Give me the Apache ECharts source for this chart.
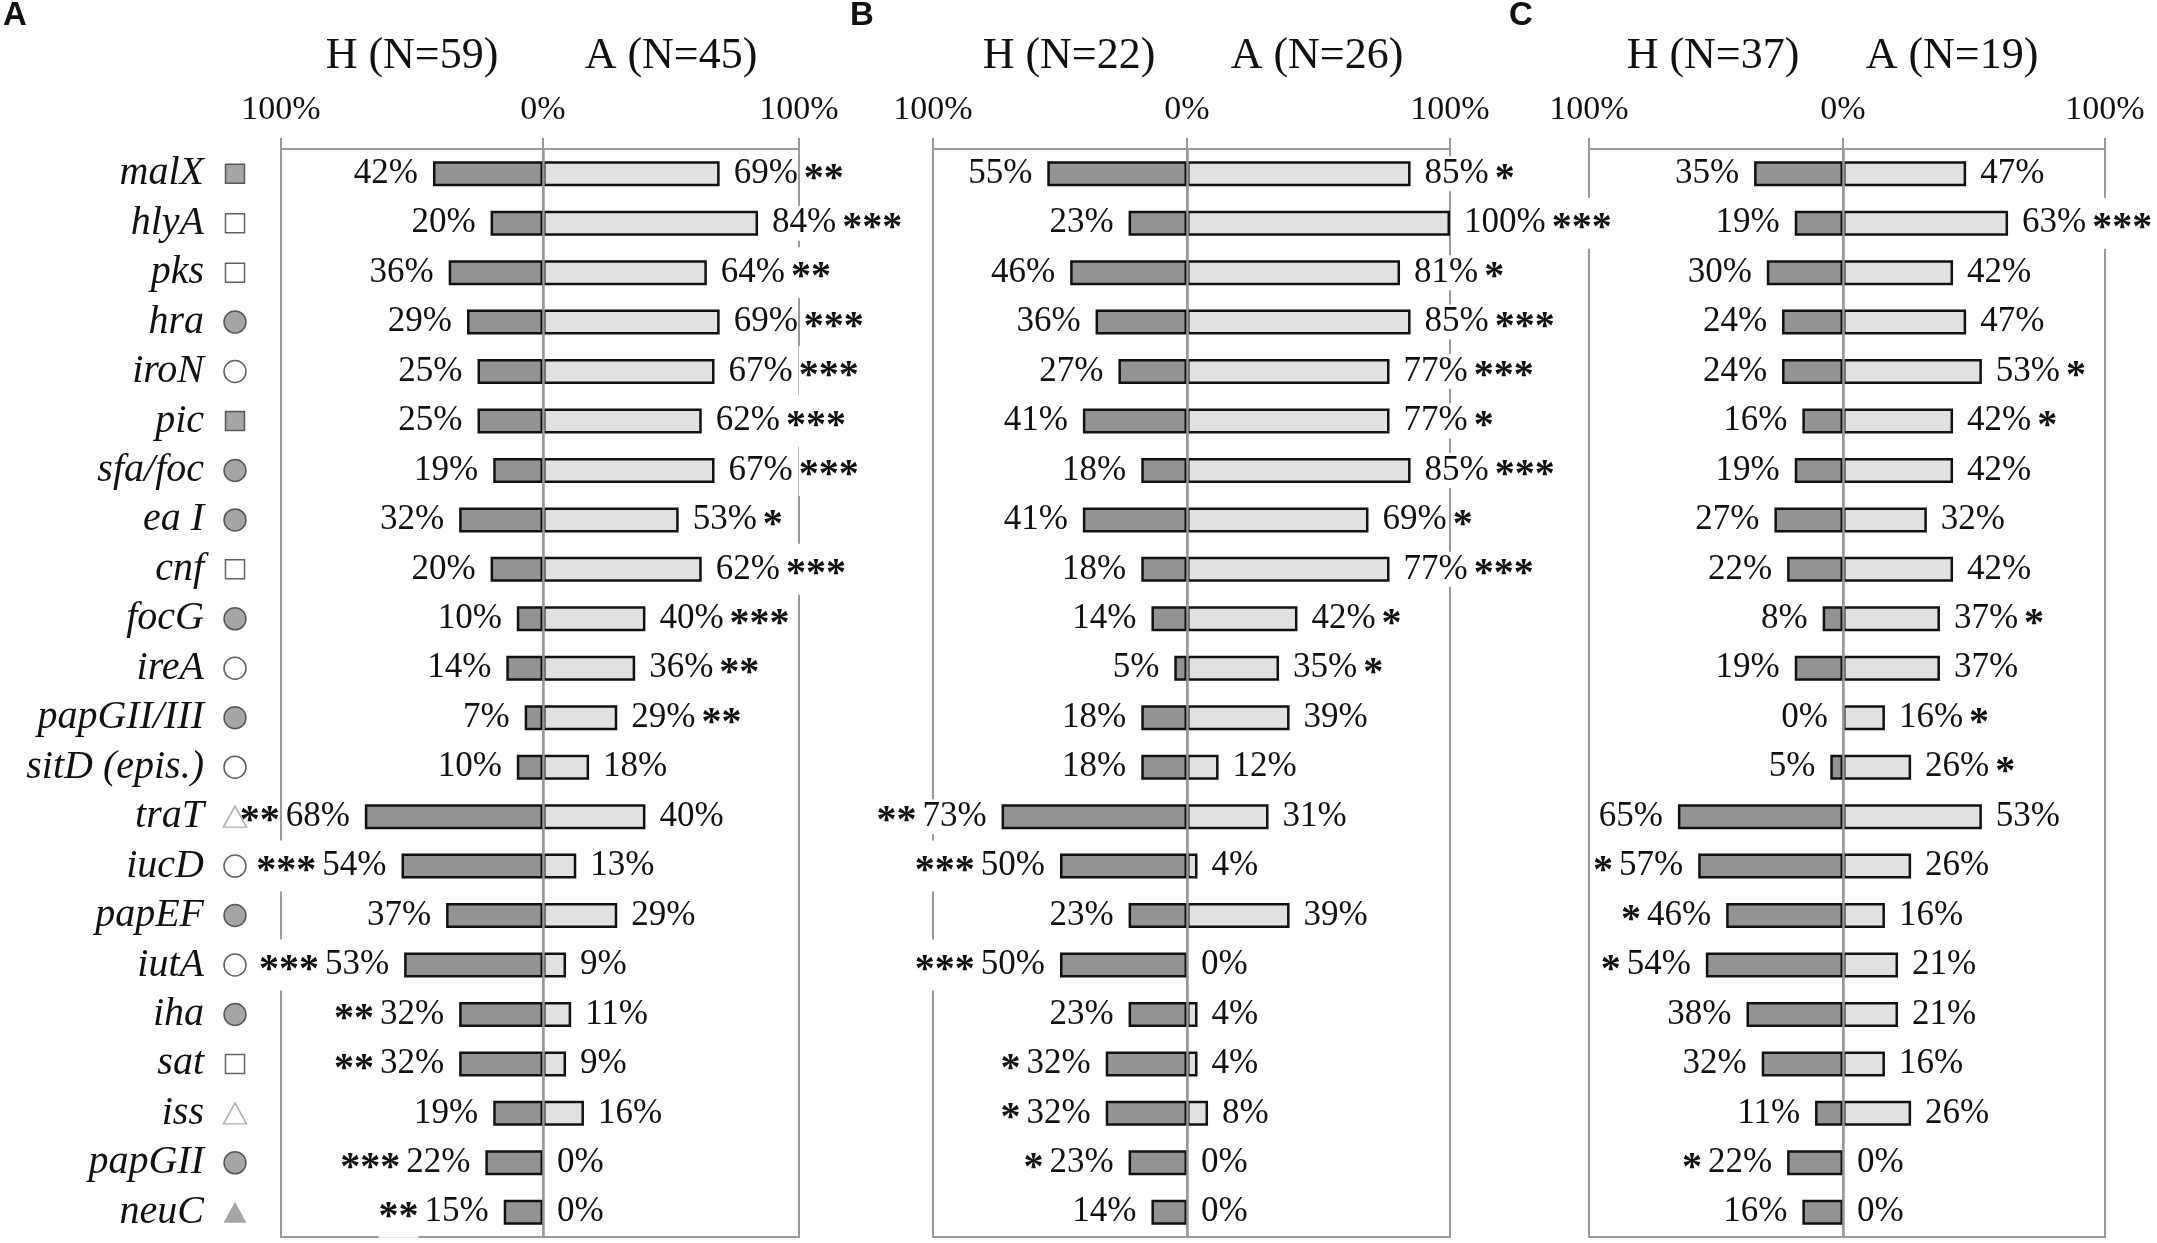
<!DOCTYPE html>
<html>
<head>
<meta charset="utf-8">
<script src="https://cdn.jsdelivr.net/npm/echarts@6/dist/echarts.min.js"></script>
<style>
  html, body { margin: 0; padding: 0; background: #fff; }
  #chart { width: 2157px; height: 1243px; }
</style>
</head>
<body>
<div id="chart"></div>
<script>
// genes, top to bottom
var genes = ['malX', 'hlyA', 'pks', 'hra', 'iroN', 'pic', 'sfa/foc', 'ea I', 'cnf', 'focG', 'ireA',
  'papGII/III', 'sitD (epis.)', 'traT', 'iucD', 'papEF', 'iutA', 'iha', 'sat', 'iss', 'papGII', 'neuC'];
// marker next to each gene name
var geneShape = ['rect', 'rect', 'rect', 'circle', 'circle', 'rect', 'circle', 'circle', 'rect', 'circle', 'circle',
  'circle', 'circle', 'triangle', 'circle', 'circle', 'circle', 'circle', 'rect', 'triangle', 'circle', 'triangle'];
var geneFill = ['g', 'w', 'w', 'g', 'w', 'g', 'g', 'g', 'w', 'g', 'w',
  'g', 'w', 'w', 'w', 'g', 'w', 'g', 'w', 'w', 'g', 'g'];

// panel A
var hA = [42, 20, 36, 29, 25, 25, 19, 32, 20, 10, 14, 7, 10, 68, 54, 37, 53, 32, 32, 19, 22, 15];
var hStarsA = ['', '', '', '', '', '', '', '', '', '', '', '', '', '**', '***', '', '***', '**', '**', '', '***', '**'];
var aA = [69, 84, 64, 69, 67, 62, 67, 53, 62, 40, 36, 29, 18, 40, 13, 29, 9, 11, 9, 16, 0, 0];
var aStarsA = ['**', '***', '**', '***', '***', '***', '***', '*', '***', '***', '**', '**', '', '', '', '', '', '', '', '', '', ''];
// panel B
var hB = [55, 23, 46, 36, 27, 41, 18, 41, 18, 14, 5, 18, 18, 73, 50, 23, 50, 23, 32, 32, 23, 14];
var hStarsB = ['', '', '', '', '', '', '', '', '', '', '', '', '', '**', '***', '', '***', '', '*', '*', '*', ''];
var aB = [85, 100, 81, 85, 77, 77, 85, 69, 77, 42, 35, 39, 12, 31, 4, 39, 0, 4, 4, 8, 0, 0];
var aStarsB = ['*', '***', '*', '***', '***', '*', '***', '*', '***', '*', '*', '', '', '', '', '', '', '', '', '', '', ''];
// panel C
var hC = [35, 19, 30, 24, 24, 16, 19, 27, 22, 8, 19, 0, 5, 65, 57, 46, 54, 38, 32, 11, 22, 16];
var hStarsC = ['', '', '', '', '', '', '', '', '', '', '', '', '', '', '*', '*', '*', '', '', '', '*', ''];
var aC = [47, 63, 42, 47, 53, 42, 42, 32, 42, 37, 37, 16, 26, 53, 26, 16, 21, 21, 16, 26, 0, 0];
var aStarsC = ['', '***', '', '', '*', '*', '', '', '', '*', '', '*', '*', '', '', '', '', '', '', '', '', ''];

var panelLetters = ['A', 'B', 'C'];
var groupTitles = [['H (N=59)', 'A (N=45)'], ['H (N=22)', 'A (N=26)'], ['H (N=37)', 'A (N=19)']];
var tickValues = [0, 100];

var panelData = [
  { h: hA, hs: hStarsA, a: aA, as: aStarsA },
  { h: hB, hs: hStarsB, a: aB, as: aStarsB },
  { h: hC, hs: hStarsC, a: aC, as: aStarsC }
];

// layout (pixels): 100% left, 0%, 100% right of each panel
var boxes = [
  { left: 281, mid: 543, right: 799, letterX: 3, titleX: [412, 671] },
  { left: 933, mid: 1187, right: 1450, letterX: 850, titleX: [1069, 1317] },
  { left: 1589, mid: 1843, right: 2105, letterX: 1509, titleX: [1713, 1952] }
];
var plotTop = 149, plotHeight = 1088;

var serif = "'Liberation Serif', 'Times New Roman', serif";
var ink = '#111';
var frame = '#9a9a9a';

var grids = [], xAxes = [], yAxes = [], series = [], graphics = [];

function barItems(vals) {
  return vals.map(function (v) {
    return v === 0 ? { value: v, itemStyle: { borderWidth: 0 } } : { value: v };
  });
}

function topAxis(gi, inverse, hideZero) {
  return {
    type: 'value', gridIndex: gi, min: 0, max: 100, interval: 100, inverse: inverse,
    position: 'top',
    axisLine: { show: true, onZero: false, lineStyle: { color: frame, width: 2 } },
    axisTick: { show: true, length: 11, inside: false, customValues: tickValues, lineStyle: { color: frame, width: 2 } },
    axisLabel: {
      show: true, margin: 22, fontFamily: serif, fontSize: 34, color: ink,
      customValues: hideZero ? [100] : tickValues,
      formatter: function (v) { return v + '%'; }
    },
    splitLine: { show: false }
  };
}

// stars are drawn a bit larger, bold, and pushed down to sit mid-height
var starRich = {
  v: { fontFamily: serif, fontSize: 35, color: ink, backgroundColor: '#fff', lineHeight: 38 },
  s: { fontFamily: serif, fontSize: 40, fontWeight: 'bold', color: ink, backgroundColor: '#fff',
       lineHeight: 38, padding: [11, 0, 0, 0] },
  g: { fontFamily: serif, fontSize: 35, color: ink, lineHeight: 38, width: 6 }
};

boxes.forEach(function (b, p) {
  var d = panelData[p];
  var gH = grids.length;
  grids.push({ left: b.left, width: b.mid - b.left, top: plotTop, height: plotHeight,
    show: true, borderColor: frame, borderWidth: 2, backgroundColor: 'transparent', containLabel: false });
  var gA = grids.length;
  grids.push({ left: b.mid, width: b.right - b.mid, top: plotTop, height: plotHeight,
    show: true, borderColor: frame, borderWidth: 2, backgroundColor: 'transparent', containLabel: false });

  xAxes.push(topAxis(gH, true, true));
  xAxes.push(topAxis(gA, false, false));

  yAxes.push({
    type: 'category', gridIndex: gH, data: genes, inverse: true, position: 'left',
    axisLine: { show: false }, axisTick: { show: false },
    axisLabel: {
      show: p === 0, interval: 0, margin: 77, fontFamily: serif, fontStyle: 'italic', fontSize: 40, color: ink
    }
  });
  yAxes.push({
    type: 'category', gridIndex: gA, data: genes, inverse: true, position: 'left', z: 10,
    axisLine: { show: true, onZero: false, lineStyle: { color: frame, width: 2.5 } },
    axisTick: { show: false }, axisLabel: { show: false }
  });

  series.push({
    type: 'bar', xAxisIndex: gH, yAxisIndex: gH, barWidth: 25, silent: true,
    data: barItems(d.h),
    itemStyle: { color: '#939393', borderColor: ink, borderWidth: 2.5 },
    label: {
      show: true, position: 'left', distance: 15, lineHeight: 38, rich: starRich,
      formatter: function (prm) {
        var s = d.hs[prm.dataIndex];
        return (s ? '{s|' + s + '}{g|}' : '') + '{v|' + prm.value + '%}';
      }
    }
  });
  series.push({
    type: 'bar', xAxisIndex: gA, yAxisIndex: gA, barWidth: 25, silent: true,
    data: barItems(d.a),
    itemStyle: { color: '#e1e1e1', borderColor: ink, borderWidth: 2.5 },
    label: {
      show: true, position: 'right', distance: 14, lineHeight: 38, rich: starRich,
      formatter: function (prm) {
        var s = d.as[prm.dataIndex];
        return '{v|' + prm.value + '%}' + (s ? '{g|}{s|' + s + '}' : '');
      }
    }
  });

  graphics.push({
    type: 'text', x: b.letterX, y: 16, silent: true,
    style: { text: panelLetters[p], font: "bold 33px 'Liberation Sans', Arial, sans-serif", fill: ink,
      verticalAlign: 'middle' }
  });
  groupTitles[p].forEach(function (t, k) {
    graphics.push({
      type: 'text', x: b.titleX[k], y: 56, silent: true,
      style: { text: t, font: '44px ' + serif, fill: ink, align: 'center', verticalAlign: 'middle' }
    });
  });
});

// marker column beside the gene names
var gS = grids.length;
grids.push({ left: 222, width: 26, top: plotTop, height: plotHeight, show: false });
xAxes.push({ type: 'value', gridIndex: gS, min: -1, max: 1, show: false });
yAxes.push({ type: 'category', gridIndex: gS, data: genes, inverse: true, show: false });

var symbolSizes = { rect: [19, 19], circle: [22, 22], triangle: [23, 21] };
series.push({
  type: 'scatter', xAxisIndex: gS, yAxisIndex: gS, z: 10, silent: true,
  data: genes.map(function (g, i) {
    var shape = geneShape[i], gray = geneFill[i] === 'g';
    var style;
    if (shape === 'triangle') {
      style = gray ? { color: '#8f8f8f', borderWidth: 0 } : { color: '#fff', borderColor: '#9a9a9a', borderWidth: 1.5 };
    } else {
      style = { color: gray ? '#8f8f8f' : '#fff', borderColor: '#3a3a3a', borderWidth: 1.5 };
    }
    return { value: [0, i], symbol: shape, symbolSize: symbolSizes[shape], itemStyle: style };
  })
});

var chart = echarts.init(document.getElementById('chart'), null, { renderer: 'canvas' });
chart.setOption({
  animation: false,
  backgroundColor: '#fff',
  grid: grids,
  xAxis: xAxes,
  yAxis: yAxes,
  series: series,
  graphic: graphics
});
</script>
</body>
</html>
